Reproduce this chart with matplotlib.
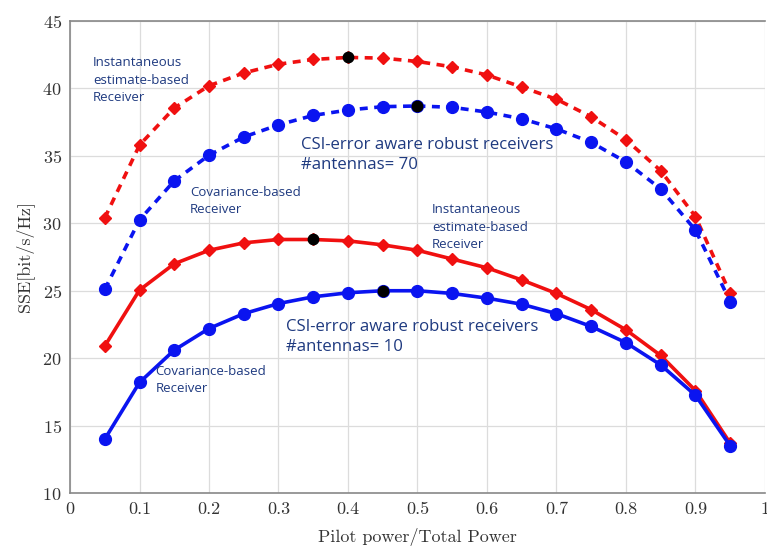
import matplotlib
matplotlib.use("Agg")
import matplotlib.pyplot as plt

x = [0.05, 0.1, 0.15, 0.2, 0.25, 0.3, 0.35, 0.4, 0.45, 0.5,
     0.55, 0.6, 0.65, 0.7, 0.75, 0.8, 0.85, 0.9, 0.95]

inst_70 = [30.4, 35.8, 38.55, 40.2, 41.15, 41.8, 42.15, 42.3, 42.25, 42.0,
           41.6, 41.0, 40.1, 39.2, 37.9, 36.2, 33.9, 30.5, 24.8]
cov_70 = [25.1, 30.25, 33.15, 35.05, 36.4, 37.3, 38.0, 38.4, 38.65, 38.7,
          38.6, 38.25, 37.75, 37.0, 36.0, 34.55, 32.55, 29.5, 24.2]
inst_10 = [20.9, 25.05, 27.0, 28.0, 28.55, 28.8, 28.8, 28.7, 28.4, 28.0,
           27.35, 26.7, 25.8, 24.8, 23.6, 22.1, 20.2, 17.6, 13.7]
cov_10 = [14.0, 18.2, 20.6, 22.2, 23.3, 24.05, 24.55, 24.85, 25.0, 25.0,
          24.8, 24.45, 24.0, 23.3, 22.35, 21.15, 19.5, 17.25, 13.5]

# optimum points (black markers)
opt_x = [0.4, 0.5, 0.35, 0.45]
opt_y = [42.3, 38.7, 28.8, 25.0]

xticks = [0, 0.1, 0.2, 0.3, 0.4, 0.5, 0.6, 0.7, 0.8, 0.9, 1]
xticklabels = ["0", "0.1", "0.2", "0.3", "0.4", "0.5", "0.6", "0.7", "0.8", "0.9", "1"]
yticks = [10, 15, 20, 25, 30, 35, 40, 45]

plt.rcParams['axes.formatter.use_mathtext'] = True
fig = plt.figure(figsize=(7.67, 5.46), dpi=100)
ax = fig.add_axes([0.0913, 0.097, 0.906, 0.8645])

RED = "#f01010"
BLUE = "#0a14f0"
lw = 2.6
dash = (0, (2.2, 1.8))

ax.plot(x, inst_70, color=RED, lw=lw, linestyle=dash, marker="D", ms=6.5, zorder=3)
ax.plot(x, cov_70, color=BLUE, lw=lw, linestyle=dash, marker="o", ms=8.5, zorder=3)
ax.plot(x, inst_10, color=RED, lw=lw, linestyle="-", marker="D", ms=6.5, zorder=3)
ax.plot(x, cov_10, color=BLUE, lw=lw, linestyle="-", marker="o", ms=8.5, zorder=3)
ax.plot(opt_x, opt_y, linestyle="none", marker="o", ms=7.5, color="black", zorder=4)

ax.set_xlim(0, 1)
ax.set_ylim(10, 45)
ax.set_xticks(xticks)
ax.set_xticklabels(xticklabels)
ax.set_yticks(yticks)
ax.grid(True, color="#dcdcdc", lw=0.9)
ax.set_axisbelow(True)
for s in ax.spines.values():
    s.set_color("#888888")
    s.set_linewidth(1.2)
ax.spines["right"].set_visible(False)
ax.tick_params(length=0, labelsize=13, pad=6, colors="#333333")
for lab in ax.get_xticklabels() + ax.get_yticklabels():
    lab.set_fontfamily("cmr10")
ax.set_xlabel("Pilot power/Total Power", fontfamily="cmr10", fontsize=13, color="#333333", labelpad=8)
ax.set_ylabel("SSE[bit/s/Hz]", fontfamily="cmr10", fontsize=13, color="#333333", labelpad=6)

TXT = "#1f3a80"
fam = ["Open Sans", "DejaVu Sans"]
small = dict(color=TXT, fontsize=9.5, family=fam, linespacing=1.45, va="top", ha="left")
big = dict(color=TXT, fontsize=12.1, family=fam, linespacing=1.3, va="top", ha="left")

ax.text(0.033, 42.4, "Instantaneous\nestimate-based\nReceiver", **small)
ax.text(0.173, 32.8, "Covariance-based\nReceiver", **small)
ax.text(0.333, 36.4, "CSI-error aware robust receivers\n#antennas= 70", **big)
ax.text(0.521, 31.5, "Instantaneous\nestimate-based\nReceiver", **small)
ax.text(0.311, 22.9, "CSI-error aware robust receivers\n#antennas= 10", **big)
ax.text(0.123, 19.5, "Covariance-based\nReceiver", **small)

fig.savefig("out.png", dpi=100)
